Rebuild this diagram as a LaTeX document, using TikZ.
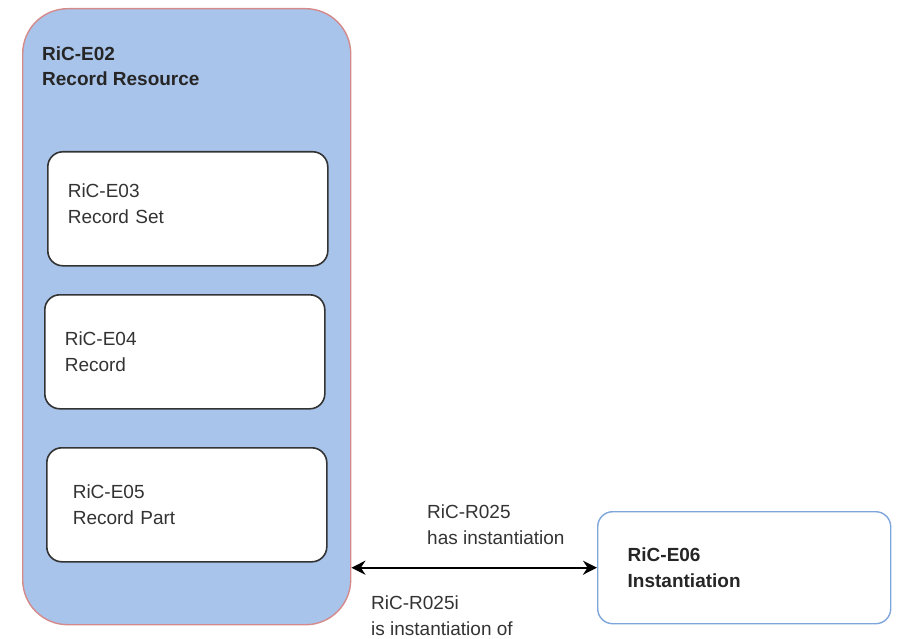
\documentclass[tikz,border=0pt]{standalone}
\usepackage{fontspec}
\setmainfont{Liberation Sans}
\usetikzlibrary{positioning}
\usetikzlibrary{arrows.meta}

\definecolor{resfill}{HTML}{A9C4EB}
\definecolor{resline}{HTML}{D48A8A}
\definecolor{instline}{HTML}{7EA6DA}
\definecolor{txtgray}{HTML}{333333}

\tikzset{
	entity/.style = {draw = txtgray, line width = 1.6pt, rounded corners = 15pt, fill = white, anchor = north west, align = left, inner xsep = 20pt, text width = 240pt, minimum height = 114pt, text = txtgray, font = \fontsize{19}{26}\selectfont},
	relarrow/.style = {black, line width = 2pt, {Stealth[length = 14pt, width = 14pt]}-{Stealth[length = 14pt, width = 14pt]}},
	rellabel/.style = {anchor = west, align = left, inner sep = 0pt, text = txtgray, font = \fontsize{19}{26}\selectfont}
}

\begin{document}
\begin{tikzpicture}[x = 1pt, y = -1pt]
				\useasboundingbox (0, 0) rectangle (897, 639);
				% outer entity
				\node[draw = resline, line width = 1.4pt, fill = resfill, rounded corners = 45pt, anchor = north west, minimum width = 328pt, minimum height = 616pt, inner sep = 0pt] (res) at (22, 8) {};
				\node[anchor = north west, align = left, inner sep = 0pt, text = black!85, font = \fontsize{19}{25}\selectfont\bfseries] (resname) at (42, 47) {RiC-E02\\Record Resource};
				% inner entities
				\node[entity, text depth = 37pt] (set) at (47, 151) {RiC-E03\\Record Set};
				\node[entity] (rec) at (44, 294) {RiC-E04\\Record};
				\node[entity, inner xsep = 26pt, text width = 228pt] (part) at (46, 447) {RiC-E05\\Record Part};
				\node[entity, draw = instline, line width = 1.4pt, inner xsep = 30pt, text width = 233pt, minimum height = 112pt, text = black!85, font = \fontsize{19}{26}\selectfont\bfseries] (inst) at (597, 511) {RiC-E06\\Instantiation};
				% relation
				\draw[relarrow] (inst.west -| res.east) -- (inst.west);
				\node[rellabel] (hasinst) at (427, 525) {RiC-R025\\has instantiation};
				\node[rellabel] (isinst) at (371, 616) {RiC-R025i\\is instantiation of};
			\end{tikzpicture}
\end{document}
